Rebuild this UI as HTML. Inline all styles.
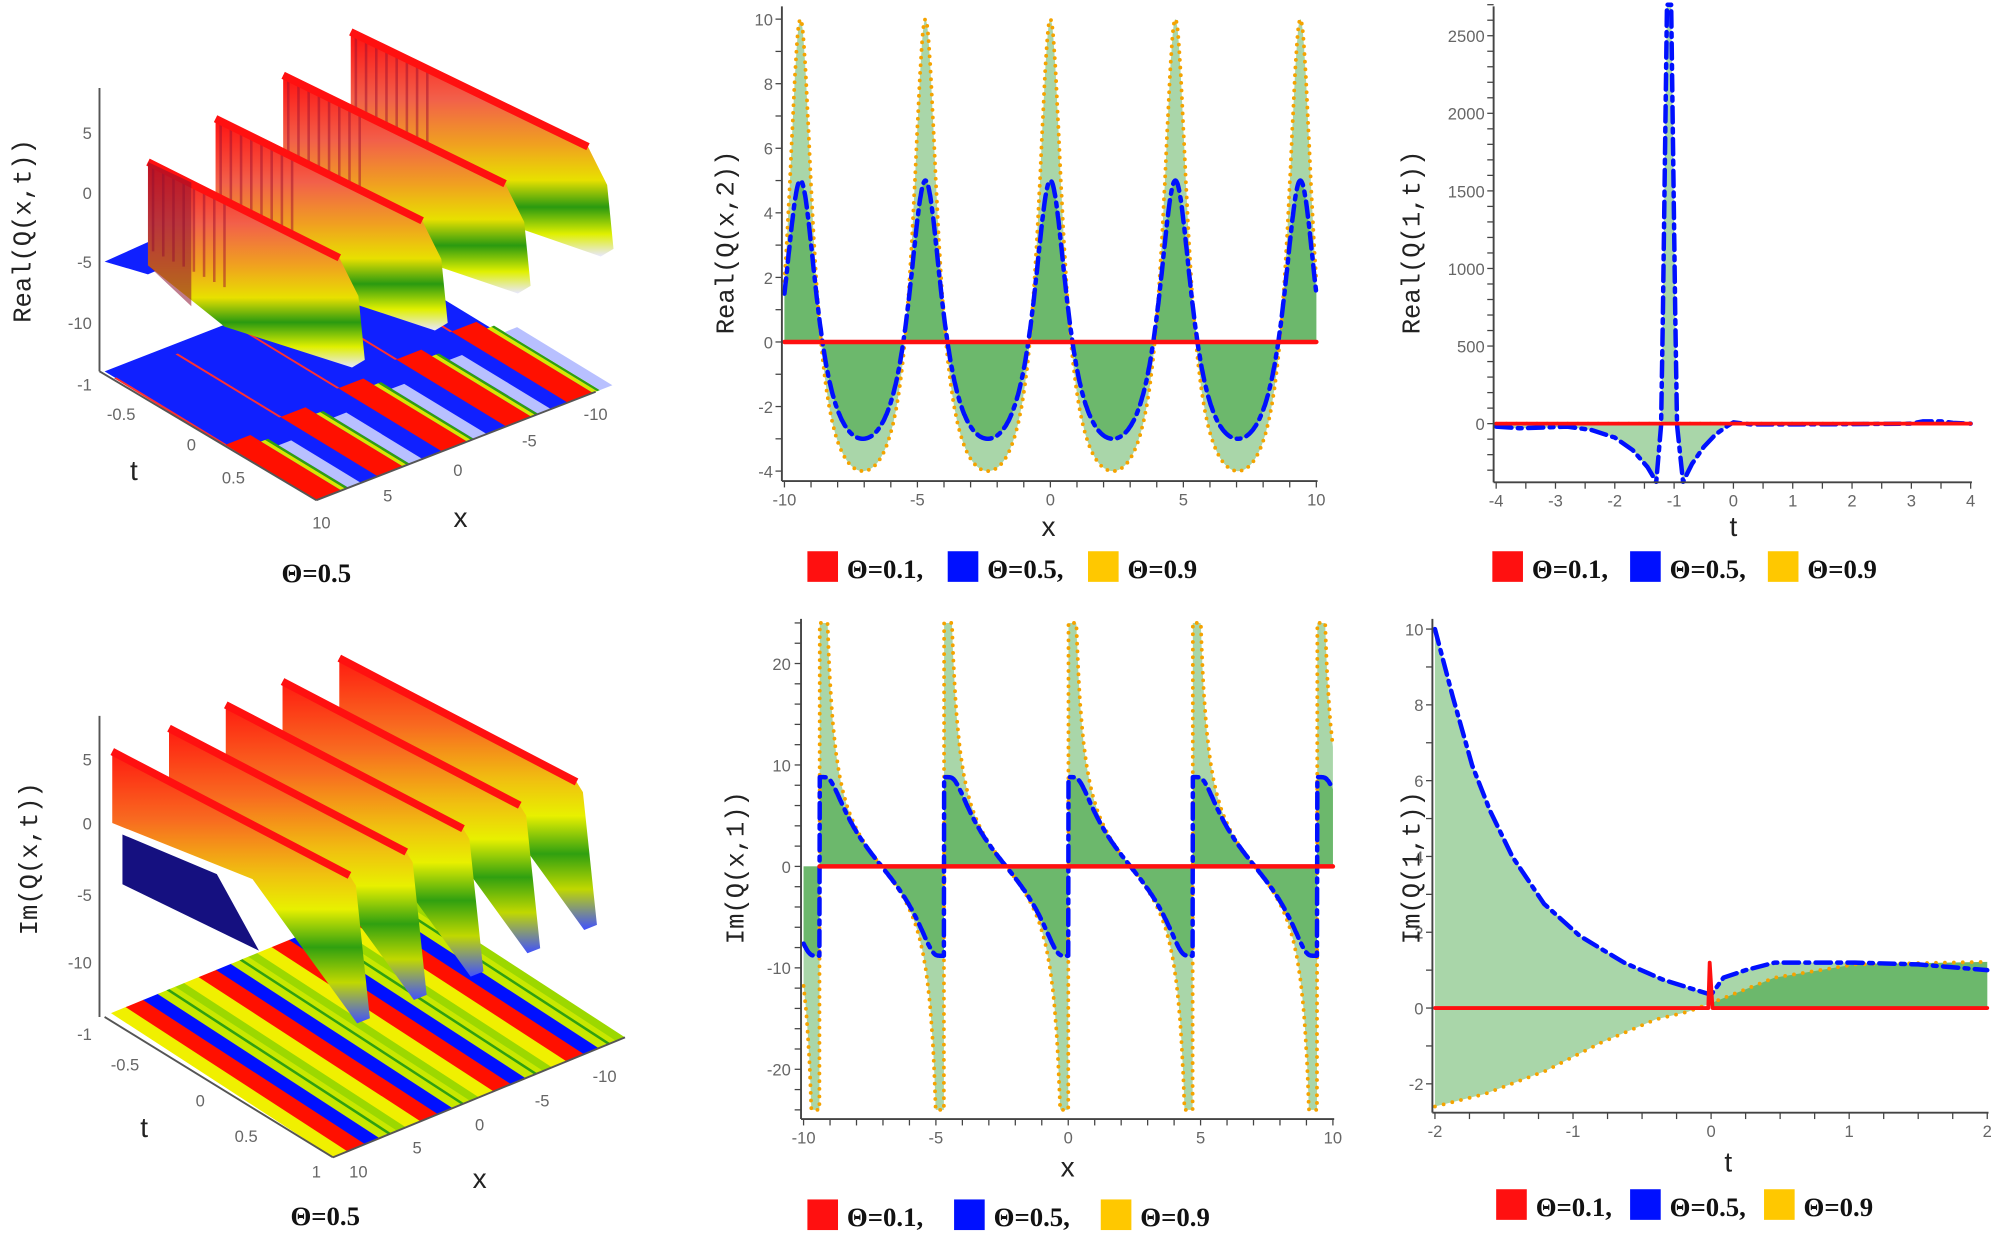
<!DOCTYPE html>
<html><head><meta charset="utf-8"><style>
html,body{margin:0;padding:0;background:#fff;}
svg{display:block;}
.tk{font-family:"Liberation Sans",sans-serif;font-size:13px;fill:#666;}
.al{font-family:"Liberation Mono",monospace;font-size:20px;fill:#222;}
.xl{font-family:"Liberation Sans",sans-serif;font-size:22px;fill:#222;}
.lg{font-family:"Liberation Serif",serif;font-size:21px;font-weight:bold;fill:#111;}
</style></head><body>
<svg id="s" width="2000" height="1239" viewBox="0 0 1568 971" preserveAspectRatio="none" xmlns="http://www.w3.org/2000/svg">
<defs>
<linearGradient id="wr" x1="0" y1="0" x2="0" y2="1">
<stop offset="0" stop-color="#ff1010"/><stop offset="0.3" stop-color="#f2604a"/><stop offset="0.5" stop-color="#f0a020"/><stop offset="0.66" stop-color="#e8e000"/><stop offset="0.78" stop-color="#2a9a10"/><stop offset="0.9" stop-color="#e0f000"/><stop offset="1" stop-color="#e8e8ff"/></linearGradient>
<linearGradient id="wi" x1="0" y1="0" x2="0" y2="1">
<stop offset="0" stop-color="#ff1a10"/><stop offset="0.25" stop-color="#f86a20"/><stop offset="0.45" stop-color="#f0c010"/><stop offset="0.58" stop-color="#e8f000"/><stop offset="0.72" stop-color="#30a010"/><stop offset="0.85" stop-color="#c0d800"/><stop offset="1" stop-color="#4050ff"/></linearGradient>
</defs>
<g id="g3d"></g>
<g id="g2d"></g>
</svg>
<script>
var NS="http://www.w3.org/2000/svg";
function el(par,tag,at,txt){var e=document.createElementNS(NS,tag);for(var k in at)e.setAttribute(k,at[k]);if(txt!==undefined)e.textContent=txt;document.getElementById(par).appendChild(e);return e;}
function P(pts){return "M"+pts.map(function(p){return p[0].toFixed(1)+","+p[1].toFixed(1)}).join("L");}
function pts2s(a){return a.map(function(p){return p[0].toFixed(1)+","+p[1].toFixed(1)}).join(" ");}
var G3="g3d",G2="g2d";
function lerp(a,b,s){return [a[0]+(b[0]-a[0])*s,a[1]+(b[1]-a[1])*s];}
// stripe quad on floor: L(left), F(front), R(right). s along F->R, d along L->F (depth 0=back,1=front)
function fquad(L,F,R,s0,s1,d0,d1,col){var v=[R[0]-F[0],R[1]-F[1]];
 function pt(s,d){var b=lerp(L,F,d);return [b[0]+v[0]*s,b[1]+v[1]*s];}
 el(G3,"polygon",{points:pts2s([pt(s0,d0),pt(s1,d0),pt(s1,d1),pt(s0,d1)]),fill:col});}
// ---------- Top-left 3D Real ----------
(function(){
var L=[82,291],F=[248,392],R=[467,307];
el(G3,"polygon",{points:"82,291 301,206 467,307 248,392",fill:"#1020ff"});
var starts=[0.0,0.22,0.45,0.68,0.9];
starts.forEach(function(s,i){var d0=0.45+0.1*(4-i)*0.3;
 fquad(L,F,R,s,s+0.09,d0,1,"#ff1000");
 fquad(L,F,R,s+0.09,s+0.105,d0+0.05,1,"#d8e800");
 fquad(L,F,R,s+0.105,s+0.115,d0+0.05,1,"#30a010");
 fquad(L,F,R,s+0.115,s+0.16,d0+0.1,1,"#b8c0ff");
 fquad(L,F,R,s-0.004,s+0.004,0.05,d0,"#ff3030");
});
el(G3,"polygon",{points:"82,205 160,170 190,183 116,215",fill:"#1020ff"});
for(var i=3;i>=0;i--){
 var tl=[116+53*i,127-34*i], tr=[tl[0]+150+12*i,tl[1]+75+5*i];
 var poly=[tl,tr,[tr[0]+15,tr[1]+30],[tr[0]+20,tr[1]+80],[tr[0]+10,tr[1]+86],[tl[0]+60,tl[1]+129],[tl[0],tl[1]+81]];
 el(G3,"polygon",{points:pts2s(poly),fill:"url(#wr)"});
 for(var k=0;k<8;k++){var x=tl[0]+4+k*8;el(G3,"line",{x1:x,y1:tl[1]+k*4+3,x2:x,y2:tl[1]+k*4+70,stroke:"#a01030","stroke-width":2,opacity:0.5});}
 el(G3,"polyline",{points:pts2s([tl,tr]),stroke:"#ff1010","stroke-width":6,fill:"none"});
}
el(G3,"polygon",{points:"116,127 150,143 150,240 116,208",fill:"#8a1030",opacity:"0.55"});
})();
el(G3,"line",{x1:78,y1:69,x2:78,y2:291,stroke:"#555","stroke-width":1.5});
el(G3,"line",{x1:78,y1:291,x2:248,y2:392,stroke:"#555","stroke-width":1.5});
el(G3,"line",{x1:248,y1:392,x2:467,y2:307,stroke:"#555","stroke-width":1.5});
[["5",104],["0",151],["-5",205],["-10",253],["-1",301]].forEach(function(a){el(G3,"text",{x:72,y:a[1]+5,"text-anchor":"end",class:"tk"},a[0]);});
[["-0.5",95,329],["0",150,353],["0.5",183,379],["10",252,414],["5",304,393],["0",359,373],["-5",415,350],["-10",467,329]].forEach(function(a){el(G3,"text",{x:a[1],y:a[2],"text-anchor":"middle",class:"tk"},a[0]);});
el(G3,"text",{x:105,y:376,"text-anchor":"middle",class:"xl"},"t");
el(G3,"text",{x:361,y:413,"text-anchor":"middle",class:"xl"},"x");
el(G3,"text",{x:0,y:0,class:"al",transform:"translate(24,181) rotate(-90)","text-anchor":"middle"},"Real(Q(x,t))");
el(G3,"text",{x:248,y:456,"text-anchor":"middle",class:"lg"},"Θ=0.5");
// ---------- Bottom-left 3D Im ----------
(function(){
var L=[87,794],F=[261,907],R=[490,813];
var seq=[["#f0f000",0.05],["#ff1000",0.06],["#0010ff",0.05],["#c8e800",0.03],["#30a010",0.01],["#c8e800",0.02],["#9cd800",0.03]];
var s=0;
while(s<1){for(var j=0;j<seq.length&&s<1;j++){var w=seq[j][1];fquad(L,F,R,s,Math.min(1,s+w+0.002),0,1,seq[j][0]);s+=w;}}
})();
el(G3,"polygon",{points:"96,654 170,685 203,745 96,693",fill:"#151080"});
for(var i=4;i>=0;i--){
 var tl=[88+44.5*i,589-18.3*i], tr=[tl[0]+186,tl[1]+97];
 var poly=[tl,tr,[tr[0]+5,tr[1]+8],[tr[0]+16,tr[1]+112],[tr[0]+6,tr[1]+116],[tl[0]+110,tl[1]+100],[tl[0],tl[1]+56]];
 el(G3,"polygon",{points:pts2s(poly),fill:"url(#wi)"});
 el(G3,"polyline",{points:pts2s([tl,tr]),stroke:"#ff1010","stroke-width":6,fill:"none"});
}
el(G3,"line",{x1:78,y1:561,x2:78,y2:797,stroke:"#555","stroke-width":1.5});
el(G3,"line",{x1:82,y1:797,x2:261,y2:907,stroke:"#555","stroke-width":1.5});
el(G3,"line",{x1:261,y1:907,x2:490,y2:813,stroke:"#555","stroke-width":1.5});
[["5",595],["0",645],["-5",701],["-10",754],["-1",810]].forEach(function(a){el(G3,"text",{x:72,y:a[1]+5,"text-anchor":"end",class:"tk"},a[0]);});
[["-0.5",98,839],["0",157,867],["0.5",193,895],["1",248,923],["10",281,923],["5",327,904],["0",376,886],["-5",425,867],["-10",474,848]].forEach(function(a){el(G3,"text",{x:a[1],y:a[2],"text-anchor":"middle",class:"tk"},a[0]);});
el(G3,"text",{x:113,y:891,"text-anchor":"middle",class:"xl"},"t");
el(G3,"text",{x:376,y:931,"text-anchor":"middle",class:"xl"},"x");
el(G3,"text",{x:0,y:0,class:"al",transform:"translate(29,673) rotate(-90)","text-anchor":"middle"},"Im(Q(x,t))");
el(G3,"text",{x:255,y:960,"text-anchor":"middle",class:"lg"},"Θ=0.5");

// ---------- helpers for 2D ----------
var LG="#a9d6a9",DG="#6cb86c",YC="#f5a300",BC="#0010ff",RC="#ff1010";
function fillArea(pts,y0,col){var a=pts.slice();a.push([pts[pts.length-1][0],y0]);a.unshift([pts[0][0],y0]);el(G2,"path",{d:P(a)+"Z",fill:col});}
function line(pts,col,w,dash){var at={d:P(pts),stroke:col,"stroke-width":w,fill:"none","stroke-linecap":"round","stroke-linejoin":"round"};if(dash)at["stroke-dasharray"]=dash;el(G2,"path",at);}
function axes(x0,x1,yt,yb){el(G2,"line",{x1:x0,y1:yt,x2:x0,y2:yb,stroke:"#444","stroke-width":1.5});el(G2,"line",{x1:x0,y1:yb,x2:x1,y2:yb,stroke:"#444","stroke-width":1.5});}
function legend(x,y,gap){var c=[RC,BC,"#ffc800"],t=["Θ=0.1,","Θ=0.5,","Θ=0.9"];for(var i=0;i<3;i++){el(G2,"rect",{x:x+i*gap,y:y,width:24,height:24,fill:c[i]});el(G2,"text",{x:x+i*gap+31,y:y+21,class:"lg"},t[i]);}}
function ticks(x0,yb,xs,ys){xs.forEach(function(x){el(G2,"line",{x1:x,y1:yb,x2:x,y2:yb+5,stroke:"#444"});});ys.forEach(function(y){el(G2,"line",{x1:x0-5,y1:y,x2:x0,y2:y,stroke:"#444"});});}

// ---------- Panel 2: Real(Q(x,2)) ----------
(function(){
var X=function(x){return 615+(x+10)*20.85},Y=function(v){return 268-v*25.3};
var ye=[],bl=[];
for(var x=-10;x<=10.001;x+=0.02){var c=Math.cos(2*Math.PI*x/4.7);ye.push([X(x),Y(-6.1+4.83/(1.3-c))]);bl.push([X(x),Y(-5.4+6.24/(1.6-c))]);}
fillArea(ye,Y(0),LG);fillArea(bl,Y(0),DG);
line(ye,YC,3,"0 6");line(bl,BC,3.5,"12 5 3 5");line([[X(-10),Y(0)],[X(10),Y(0)]],RC,3.5);
axes(613,1033,5,377);
var xs=[],ys=[];for(var k=-10;k<=10;k++)xs.push(X(k));for(var v=-4;v<=10;v++)ys.push(Y(v));ticks(613,377,xs,ys);
[-10,-5,0,5,10].forEach(function(k){el(G2,"text",{x:X(k),y:396,"text-anchor":"middle",class:"tk"},k);});
[10,8,6,4,2,0,-2,-4].forEach(function(v){el(G2,"text",{x:606,y:Y(v)+5,"text-anchor":"end",class:"tk"},v);});
el(G2,"text",{x:822,y:420,"text-anchor":"middle",class:"xl"},"x");
el(G2,"text",{x:0,y:0,class:"al",transform:"translate(575,190) rotate(-90)","text-anchor":"middle"},"Real(Q(x,2))");
legend(633,432,110);
})();

// ---------- Panel 5: Im(Q(x,1)) ----------
(function(){
var X=function(x){return 630+(x+10)*20.75},Y=function(v){return 679-v*7.95};
var ye=[],bl=[];
for(var x=-10;x<=10.001;x+=0.01){var ph=((x+9.4)/4.7)%1;if(ph<0)ph+=1;if(ph<0.004)ph=0.004;if(ph>0.996)ph=0.996;var u=5/Math.tan(Math.PI*ph);var yv=Math.max(-24,Math.min(24,u));ye.push([X(x),Y(yv)]);bl.push([X(x),Y(8.8*Math.tanh(u/9))]);}
fillArea(ye,Y(0),LG);fillArea(bl,Y(0),DG);
line(ye,YC,3,"0 6");line(bl,BC,3.5,"12 5 3 5");line([[X(-9.4),Y(0)],[X(10),Y(0)]],RC,3.5);
axes(628,1046,485,877);
var xs=[],ys=[];for(var k=-10;k<=10;k++)xs.push(X(k));for(var v=-24;v<=24;v+=2)ys.push(Y(v));ticks(628,877,xs,ys);
[-10,-5,0,5,10].forEach(function(k){el(G2,"text",{x:X(k),y:896,"text-anchor":"middle",class:"tk"},k);});
[20,10,0,-10,-20].forEach(function(v){el(G2,"text",{x:620,y:Y(v)+5,"text-anchor":"end",class:"tk"},v);});
el(G2,"text",{x:837,y:922,"text-anchor":"middle",class:"xl"},"x");
el(G2,"text",{x:0,y:0,class:"al",transform:"translate(583,680) rotate(-90)","text-anchor":"middle"},"Im(Q(x,1))");
legend(633,940,115);
})();

// ---------- Panel 3: Real(Q(1,t)) ----------
(function(){
var X=function(t){return 1173+(t+4)*46.5},Y=function(v){return 332-v*0.1216};
var d=[[-4,-20],[-3.6,-30],[-3.2,-25],[-2.8,-20],[-2.4,-40],[-2,-90],[-1.7,-170],[-1.45,-280],[-1.3,-375],[-1.22,-10],[-1.19,700],[-1.12,2700],[-1.05,2700],[-0.98,700],[-0.95,-10],[-0.85,-375],[-0.7,-260],[-0.5,-150],[-0.3,-70],[-0.1,-15],[0,8],[0.3,-5],[1,-5],[2,-3],[3,0],[3.2,15],[3.5,15],[3.7,5],[4,0]];
var bl=d.map(function(p){return [X(p[0]),Y(p[1])]});
fillArea(bl,Y(0),LG);
line([[X(-4),Y(0)],[X(4),Y(0)]],YC,3,"0 8");
line(bl,BC,3.5,"12 5 3 5");
line([[X(-4),Y(0)],[X(4),Y(0)]],RC,3);
axes(1171,1546,5,378);
var xs=[],ys=[];for(var k=-8;k<=8;k++)xs.push(X(k/2));for(var v=-300;v<=2700;v+=100)ys.push(Y(v));ticks(1171,378,xs,ys);
[-4,-3,-2,-1,0,1,2,3,4].forEach(function(k){el(G2,"text",{x:X(k),y:397,"text-anchor":"middle",class:"tk"},k);});
[2500,2000,1500,1000,500,0].forEach(function(v){el(G2,"text",{x:1164,y:Y(v)+5,"text-anchor":"end",class:"tk"},v);});
el(G2,"text",{x:1359,y:420,"text-anchor":"middle",class:"xl"},"t");
el(G2,"text",{x:0,y:0,class:"al",transform:"translate(1113,190) rotate(-90)","text-anchor":"middle"},"Real(Q(1,t))");
legend(1170,432,108);
})();

// ---------- Panel 6: Im(Q(1,t)) ----------
(function(){
var X=function(t){return 1125+(t+2)*108.25},Y=function(v){return 790-v*29.7};
var bd=[[-2,10],[-1.87,8.2],[-1.73,6.4],[-1.6,5.2],[-1.44,4.0],[-1.21,2.75],[-0.95,1.9],[-0.63,1.2],[-0.35,0.75],[0,0.35],[0.09,0.8],[0.25,1.0],[0.46,1.2],[1.04,1.2],[1.5,1.15],[2,1.0]];
var yd=[[-2,-2.6],[-1.64,-2.27],[-1.2,-1.66],[-0.8,-0.92],[-0.4,-0.3],[-0.17,-0.1],[0,0.13],[0.46,0.8],[1.04,1.15],[2,1.22]];
var bl=bd.map(function(p){return [X(p[0]),Y(p[1])]}), ye=yd.map(function(p){return [X(p[0]),Y(p[1])]});
var bneg=bl.slice(0,10), yneg=ye.slice(0,7).reverse();
el(G2,"path",{d:P(bneg.concat(yneg))+"Z",fill:LG});
fillArea(bl.slice(9),Y(0),LG);
fillArea(ye.slice(6),Y(0),DG);
line(ye,YC,3,"0 7");line(bl,BC,3.5,"12 5 3 5");
line([[X(-2),Y(0)],[X(-0.02),Y(0)],[X(-0.01),Y(1.2)],[X(0.01),Y(0)],[X(2),Y(0)]],RC,3);
axes(1123,1559,485,872);
var xs=[],ys=[];for(var k=-8;k<=8;k++)xs.push(X(k/4));for(var v=-2;v<=10;v++)ys.push(Y(v));ticks(1123,872,xs,ys);
[-2,-1,0,1,2].forEach(function(k){el(G2,"text",{x:X(k),y:891,"text-anchor":"middle",class:"tk"},k);});
[10,8,6,4,2,0,-2].forEach(function(v){el(G2,"text",{x:1116,y:Y(v)+5,"text-anchor":"end",class:"tk"},v);});
el(G2,"text",{x:1355,y:918,"text-anchor":"middle",class:"xl"},"t");
el(G2,"text",{x:0,y:0,class:"al",transform:"translate(1113,680) rotate(-90)","text-anchor":"middle"},"Im(Q(1,t))");
legend(1173,932,105);
})();
</script>
</body></html>
